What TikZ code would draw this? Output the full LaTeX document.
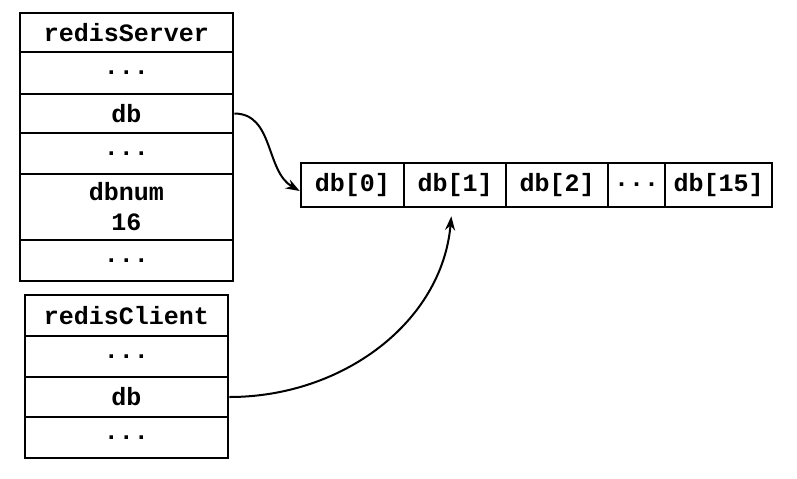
\documentclass[tikz,border=0pt]{standalone}
\usepackage{fontspec}
\setmonofont{Liberation Mono}
\usetikzlibrary{arrows.meta}
\begin{document}
\begin{tikzpicture}[x=0.5pt, y=-0.5pt,
    cell/.style={draw, line width=1.3pt, inner sep=0pt, align=center,
      font=\ttfamily\bfseries\fontsize{12.5}{15}\selectfont},
    srv/.style={cell, minimum width=106.5pt},
    cli/.style={cell, minimum width=101.5pt},
    slot/.style={cell, minimum height=22pt},
    ptr/.style={line width=1pt, -{Stealth[length=7pt, width=5pt]}}]
  \useasboundingbox (0,0) rectangle (797,478);
  % redisServer
  \node[srv, minimum height=19.5pt] (stitle) at (126.5,32.5) {redisServer};
  \node[srv, minimum height=21pt] (sdots1) at (126.5,73) {...};
  \node[srv, minimum height=19.5pt] (sdb) at (126.5,113.5) {db};
  \node[srv, minimum height=20.5pt] (sdots2) at (126.5,153.5) {...};
  \node[srv, minimum height=33pt] (snum) at (126.5,207) {dbnum\\16};
  \node[srv, minimum height=20.5pt] (sdots3) at (126.5,260.5) {...};
  % redisClient
  \node[cli, minimum height=20.5pt] (ctitle) at (126.5,315.5) {redisClient};
  \node[cli, minimum height=20.5pt] (cdots1) at (126.5,356.5) {...};
  \node[cli, minimum height=20pt] (cdb) at (126.5,397) {db};
  \node[cli, minimum height=20.5pt] (cdots2) at (126.5,437.5) {...};
  % db array
  \node[slot, minimum width=51.5pt] (d0) at (352.5,185) {db[0]};
  \node[slot, minimum width=51pt] (d1) at (455,185) {db[1]};
  \node[slot, minimum width=51pt] (d2) at (557,185) {db[2]};
  \node[slot, minimum width=28.5pt] (dd) at (636.5,185) {...};
  \node[slot, minimum width=53.5pt] (d15) at (718.5,185) {db[15]};
  \draw[ptr] (sdb.east) to[out=0, in=150] ([yshift=-3pt]d0.west);
  \draw[ptr, shorten >=4pt] (cdb.east) to[out=0, in=-95] ([xshift=-1.5pt]d1.south);
\end{tikzpicture}
\end{document}
